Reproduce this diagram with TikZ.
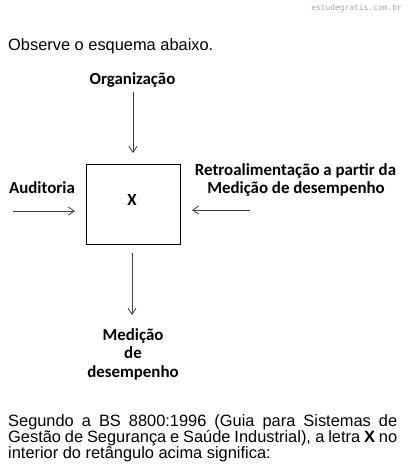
\documentclass[tikz,border=0pt]{standalone}
\usepackage{fontspec}
\setmainfont{Liberation Sans}
\newfontfamily\labfont{Carlito}
\newfontfamily\wmfont{DejaVu Sans Mono}
\usetikzlibrary{arrows.meta}
\definecolor{wmgray}{RGB}{165,165,165}
\definecolor{arrgray}{RGB}{60,60,60}
\tikzset{
  lab/.style={inner sep=0pt, anchor=base, font=\labfont\bfseries\fontsize{16.9}{18}\selectfont},
  body/.style={inner sep=0pt, anchor=base west, font=\fontsize{16.4}{18}\selectfont},
  arr/.style={draw=arrgray, line width=0.8pt, -{Straight Barb[length=6pt,width=8pt]}},
  xbox/.style={draw=black, line width=0.9pt}
}
\begin{document}
\begin{tikzpicture}[x=1pt,y=-1pt]
\useasboundingbox (0,0) rectangle (408,472);
% watermark
\node[inner sep=0pt, anchor=base east, text=wmgray, font=\wmfont\fontsize{7.9}{9}\selectfont] (wm) at (402,10) {estudegratis.com.br};
% intro
\node[body] (intro) at (8,50) {Observe o esquema abaixo.};
% box
\draw[xbox] (86,164) rectangle (180,244);
\node[lab] (x) at (132,205) {X};
% labels
\node[lab] (org) at (132.5,84.3) {Organização};
\node[lab] (aud) at (42,193) {Auditoria};
\node[lab] (retro1) at (295.5,175) {Retroalimentação a partir da};
\node[lab] (retro2) at (296,193) {Medição de desempenho};
\node[lab] (med1) at (133,340) {Medição};
\node[lab] (med2) at (133,358.5) {de};
\node[lab] (med3) at (133,377) {desempenho};
% arrows
\coordinate (t1) at (133,92);
\coordinate (t2) at (133,153);
\coordinate (l1) at (13,211);
\coordinate (l2) at (75,211);
\coordinate (r1) at (250,210);
\coordinate (r2) at (192,210);
\coordinate (b1) at (132,253);
\coordinate (b2) at (132,315);
\draw[arr] (t1) -- (t2);
\draw[arr] (l1) -- (l2);
\draw[arr] (r1) -- (r2);
\draw[arr] (b1) -- (b2);
% question text
\node[body] (q1) at (8,426) {\spaceskip=2pt plus 1fil\makebox[389pt][s]{Segundo a BS 8800:1996 (Guia para Sistemas de}};
\node[body] (q2) at (8,442.7) {\spaceskip=2pt plus 1fil\makebox[389pt][s]{Gestão de Segurança e Saúde Industrial), a letra \textbf{X} no}};
\node[body] (q3) at (8,458.8) {interior do retângulo acima significa:};
\end{tikzpicture}
\end{document}
